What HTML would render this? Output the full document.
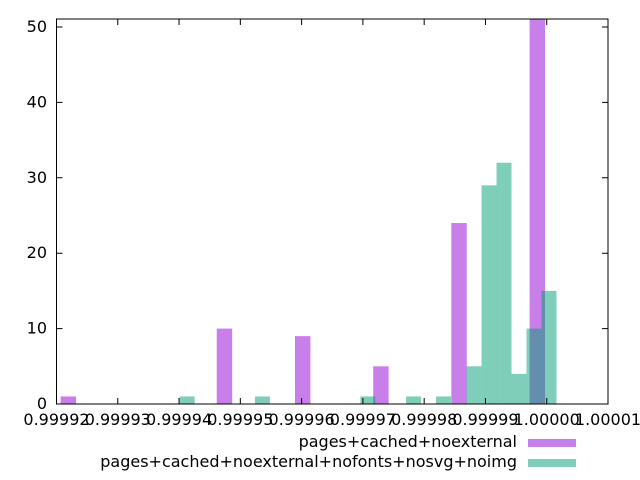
<!DOCTYPE html>
<html><head><meta charset="utf-8"><style>body{margin:0;background:#fff}svg{display:block}text{font-family:"DejaVu Sans","Liberation Sans",sans-serif;font-size:16px;fill:#000}</style></head>
<body>
<svg id="chart" width="640" height="480" viewBox="0 0 640 480" xmlns="http://www.w3.org/2000/svg"></svg>
<script>
// x values are in units of 1e-5 above 0.99992 (bar centers)
const purpleCenters = [0.193, 2.741, 4.018, 5.294, 6.569, 7.847];
const purpleCounts = [1, 10, 9, 5, 24, 51];
const tealCenters = [2.132, 3.36, 5.08, 5.827, 6.316, 6.814, 7.059, 7.303, 7.548, 7.793, 8.037];
const tealCounts = [1, 1, 1, 1, 1, 5, 29, 32, 4, 10, 15];
const xTickLabels = ["0.99992","0.99993","0.99994","0.99995","0.99996","0.99997","0.99998","0.99999","1.00000","1.00001"];
const yTickValues = [0, 10, 20, 30, 40, 50];

const L=56.5, R=608, T=19, B=404;
const NS="http://www.w3.org/2000/svg";
const svg=document.getElementById('chart');
const xs=v=>L+v*(R-L)/9;
const ys=v=>B-v*(B-27)/50;
function mk(t,a){const e=document.createElementNS(NS,t);for(const k in a)e.setAttribute(k,a[k]);svg.appendChild(e);return e;}

function bars(centers,counts,color,w,name){
  centers.forEach((c,i)=>{
    const x0=xs(c-w/2), x1=xs(c+w/2), y=Math.max(ys(counts[i]),T);
    const r=mk('rect',{x:x0,y:y,width:x1-x0,height:B-y,fill:color,'fill-opacity':0.5});
    
    
  });
}
bars(purpleCenters,purpleCounts,'#9400d3',0.252,'purple-bar');
bars(tealCenters,tealCounts,'#009e73',0.2447,'teal-bar');

const f=mk('rect',{x:L,y:T,width:R-L,height:B-T,fill:'none',stroke:'#000','stroke-width':1});



yTickValues.forEach(v=>{
  const y=ys(v);
  const tk=mk('path',{d:`M${L},${y}h6M${R},${y}h-6`,stroke:'#000','stroke-width':1});
  
  
  const t=mk('text',{x:47,y:y+5,'text-anchor':'end'});
  t.textContent=v;
  
  
});
xTickLabels.forEach((lab,i)=>{
  const x=xs(i);
  const tk=mk('path',{d:`M${x},${B}v-6M${x},${T}v6`,stroke:'#000','stroke-width':1});
  
  
  const t=mk('text',{x:x,y:425,'text-anchor':'middle'});
  t.textContent=lab;
  
  
});

const legend=[["pages+cached+noexternal",'#9400d3',447],["pages+cached+noexternal+nofonts+nosvg+noimg",'#009e73',467]];
legend.forEach(([lab,c,y])=>{
  const t=mk('text',{x:517,y:y,'text-anchor':'end'});
  t.textContent=lab;
  
  
  const s=mk('rect',{x:528,y:y-8,width:48,height:8,fill:c,'fill-opacity':0.5});
  
  
});
</script>
</body></html>
